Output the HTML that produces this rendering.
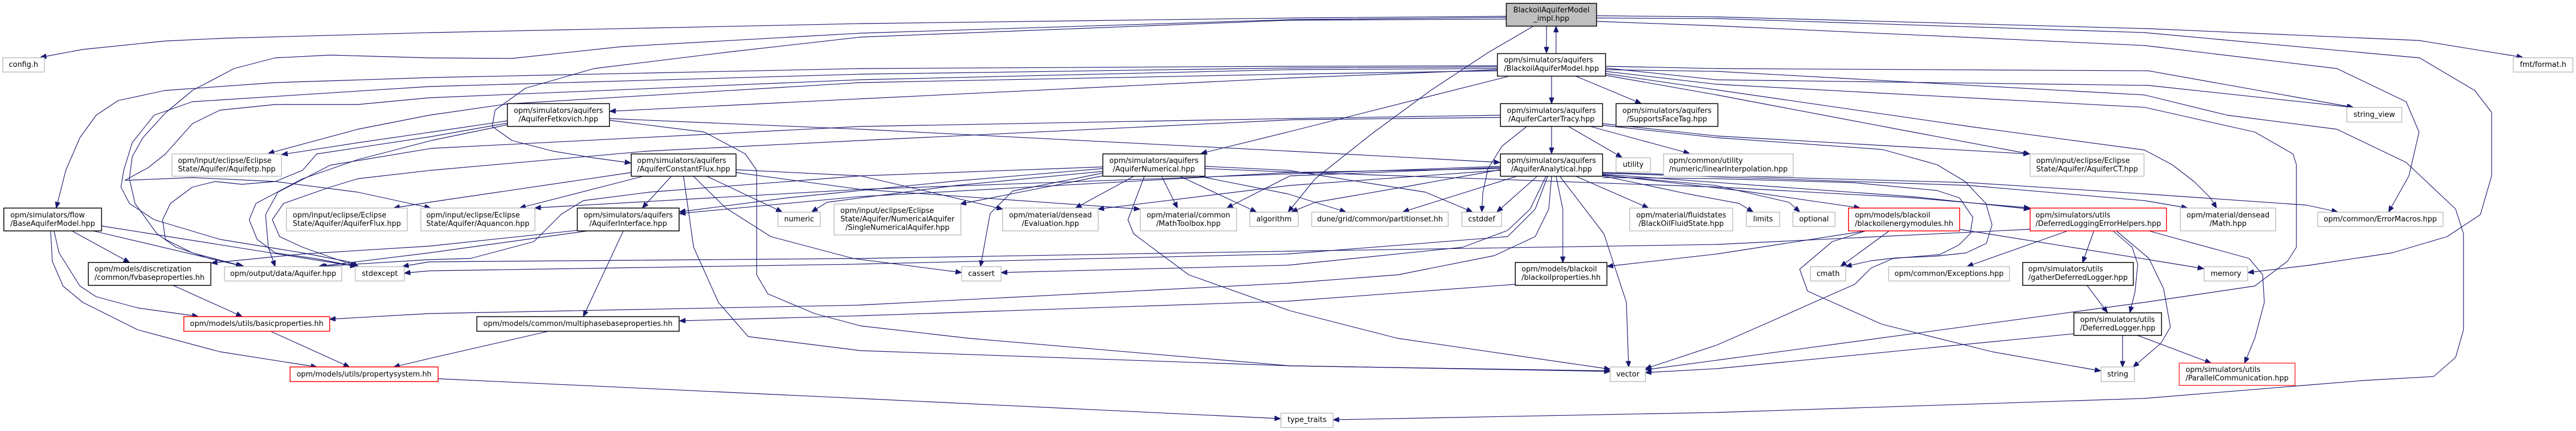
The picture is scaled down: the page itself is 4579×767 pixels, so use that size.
<!DOCTYPE html>
<html><head><meta charset="utf-8">
<style>
html,body{margin:0;padding:0;background:#fff;}
#c{position:relative;width:4579px;height:767px;overflow:hidden;background:#fff;}
svg{position:absolute;left:0;top:0;}
.n{position:absolute;display:flex;align-items:center;justify-content:center;font-family:"DejaVu Sans","Liberation Sans",sans-serif;font-size:13px;line-height:15px;color:#000;white-space:nowrap;}
.n .t{text-align:left;}
.n .t div:last-child{text-align:center;}
</style></head><body><div id="c">
<svg width="4579" height="767" viewBox="0 0 4579 767">
<defs>
<marker id="a" viewBox="0 0 11 9" refX="10.5" refY="4.5" markerWidth="11" markerHeight="9" markerUnits="userSpaceOnUse" orient="auto">
<path d="M0,0L11,4.5L0,9z" fill="#191970" stroke="#191970" stroke-width="0.8"/>
</marker>
</defs>
<g fill="none" stroke="#191970" stroke-width="1.15" stroke-linejoin="round" marker-end="url(#a)">
<polyline points="2749,47 2749,94"/>
<polyline points="2766,95 2766,47"/>
<polyline points="2677,29 2300,32 1530,42 767,58 400,68 293,73 147,88 72,102"/>
<polyline points="2725,47 2646,93 2543,161 2436,240 2338,318 2290,377"/>
<polyline points="2677,34 2293,36 1530,66 1300,92 1056,122 934,157 880,196 875,225 910,250 983,269 1056,281 1121,290"/>
<polyline points="2677,31 2293,35 1530,59 1105,83 910,104 763,103 587,98 489,103 416,122 342,161 294,201 254,245 235,279 230,318 240,362 279,416 313,440 372,460 433,474"/>
<polyline points="2838,28 3052,30 3819,51 4300,72 4484,102"/>
<polyline points="2838,32 3052,33 3812,58 4301,103 4399,161 4429,200 4429,313 4409,382 4350,421 4252,450 4105,472 3996,485"/>
<polyline points="2838,38 3052,46 3812,81 4154,122 4277,181 4300,235 4282,313 4246,377"/>
<polyline points="2662,117 2289,118 1530,122 767,138 489,147 293,161 210,179 171,205 142,245 117,303 100,370"/>
<polyline points="2662,119 2289,121 1530,132 763,154 342,181 274,205 235,254 220,303 215,333 230,362 274,391 391,426 538,450 621,466 637,474"/>
<polyline points="2662,122 2289,124 1526,142 763,174 636,186 489,186 391,196 342,220 294,274 264,298 222,321 342,316 489,323 636,342 765,370"/>
<polyline points="2662,126 2289,132 1530,147 902,185 763,205 636,230 477,273"/>
<polyline points="2662,124 2289,139 1526,176 1084,198"/>
<polyline points="2681,136 2289,235 2135,273"/>
<polyline points="2758,136 2758,184"/>
<polyline points="2802,136 2917,184"/>
<polyline points="2854,118 3052,122 3819,126 4183,191"/>
<polyline points="2854,121 3052,142 3819,152 4182,191"/>
<polyline points="2854,124 3052,127 3812,169 3959,205 4154,230 4277,289 4365,372 4379,416 4379,587 4365,636 4326,670 4203,677 4081,687 3812,709 3052,734 2370,747"/>
<polyline points="2854,127 3052,150 3812,191 4008,235 4076,274 4082,293 4082,440 4066,465 4008,509 3812,538 3052,641 2925,658"/>
<polyline points="2854,131 3052,160 3500,225 3812,267 3861,293 3900,323 3929,352 3940,370"/>
<polyline points="2854,134 3052,169 3400,235 3608,274"/>
<polyline points="2849,220 3052,242 3400,262 3607,274"/>
<polyline points="2849,223 3052,245 3346,266 3443,293 3493,323 3530,362 3541,400 3531,433 3495,450 3440,456 3370,459 3326,464 3281,474"/>
<polyline points="2758,225 2758,273"/>
<polyline points="2788,225 2883,280"/>
<polyline points="2827,225 3003,273"/>
<polyline points="2714,225 2670,260 2645,300 2636,342 2634,377"/>
<polyline points="2667,205 2289,211 1530,225 767,264 587,294 494,342 472,382 477,440 489,474"/>
<polyline points="2667,209 2300,213 1530,250 1150,269 767,303 636,318 587,333 504,362 484,391 497,421 538,440 634,474"/>
<polyline points="902,215 767,235 636,254 501,275"/>
<polyline points="902,219 767,243 563,274 538,303 489,323 430,328 382,323 342,333 303,362 289,391 294,426 342,450 430,473"/>
<polyline points="902,222 767,250 636,284 538,318 455,362 443,391 457,426 489,450 560,460 633,474"/>
<polyline points="1083,211 1530,230 2293,269 2666,289"/>
<polyline points="1083,214 1252,235 1325,274 1345,303 1345,489 1365,523 1448,558 1530,580 1722,602 2293,651 2862,660"/>
<polyline points="1122,307 763,360 700,370"/>
<polyline points="1142,314 924,370"/>
<polyline points="1193,314 1142,370"/>
<polyline points="1257,314 1390,377"/>
<polyline points="1233,314 1290,370 1370,421 1517,460 1709,485"/>
<polyline points="1215,314 1233,440 1277,538 1330,599 1530,624 2293,651 2862,661"/>
<polyline points="1308,302 1530,313 1782,372"/>
<polyline points="1308,307 1530,337 2026,372"/>
<polyline points="1026,410 763,438 538,452 376,468"/>
<polyline points="1044,411 763,450 567,474"/>
<polyline points="1108,411 1037,563"/>
<polyline points="1960,300 1700,322 1400,352 1208,377"/>
<polyline points="2667,300 2289,307 1526,350 1208,380"/>
<polyline points="1960,305 1700,330 1470,360 1443,377"/>
<polyline points="1960,313 1707,363"/>
<polyline points="1960,308 1800,340 1760,380 1743,474"/>
<polyline points="2015,314 1912,370"/>
<polyline points="2065,314 2093,370"/>
<polyline points="2098,314 2233,377"/>
<polyline points="2034,314 2005,391 2015,416 2113,489 2293,553 2484,602 2862,657"/>
<polyline points="2142,296 2289,303 2534,342 2617,377"/>
<polyline points="2133,314 2289,345 2392,377"/>
<polyline points="1960,297 1530,313 1154,342 1037,357 998,381 949,430 836,460 763,462 570,474"/>
<polyline points="2667,296 1530,337 951,370"/>
<polyline points="2667,303 2293,330 1952,372"/>
<polyline points="2667,298 2293,313 2181,370"/>
<polyline points="2667,302 2500,332 2338,360 2296,377"/>
<polyline points="2748,314 2720,372 2680,410 2600,440 2289,472 1780,485"/>
<polyline points="2751,314 2729,372 2680,421 2289,452 1526,470 763,482 719,486"/>
<polyline points="2758,314 2753,372 2729,421 2656,455 2485,489 2289,504 1526,543 763,558 586,568"/>
<polyline points="2766,314 2778,372 2778,467"/>
<polyline points="2773,314 2851,416 2891,538 2895,653"/>
<polyline points="2695,314 2494,377"/>
<polyline points="2732,314 2661,377"/>
<polyline points="2802,314 2930,370"/>
<polyline points="2849,313 3000,345 3091,362 3116,377"/>
<polyline points="2849,312 3050,330 3180,360 3199,377"/>
<polyline points="2849,311 3100,340 3306,370"/>
<polyline points="2849,310 3400,350 3608,372"/>
<polyline points="2142,300 2289,306 3056,333 3400,352 3608,370"/>
<polyline points="2849,308 3500,330 3812,357 3888,370"/>
<polyline points="2849,307 3500,325 3812,345 4100,365 4155,377"/>
<polyline points="2849,316 3052,318 3294,325 3443,339 3483,352 3507,387 3502,416 3482,436 3448,453 3365,460 3326,477 3297,506 3258,523 3150,571 3052,614 2925,656"/>
<polyline points="3358,411 3272,474"/>
<polyline points="3316,411 3257,430 3199,479 3213,518 3345,577 3541,626 3734,660"/>
<polyline points="3316,411 3052,452 2857,474"/>
<polyline points="3483,408 3819,462 3917,478"/>
<polyline points="2693,506 2289,536 1526,562 1208,571"/>
<polyline points="3675,411 3497,474"/>
<polyline points="3722,411 3702,467"/>
<polyline points="3756,411 3790,440 3800,470 3795,520 3786,556"/>
<polyline points="3762,411 3820,460 3846,514 3858,582 3841,611 3792,653"/>
<polyline points="3820,411 3998,460 4022,489 4025,538 4008,602 3990,646"/>
<polyline points="3609,408 3052,435 2289,447 1526,460 763,466 716,474"/>
<polyline points="3710,508 3746,556"/>
<polyline points="3773,597 3773,653"/>
<polyline points="3800,597 3930,646"/>
<polyline points="3686,594 3052,656 2925,663"/>
<polyline points="128,411 230,467"/>
<polyline points="166,411 433,474"/>
<polyline points="180,402 633,474"/>
<polyline points="96,411 105,450 142,509 171,528 245,548 352,563"/>
<polyline points="90,411 93,465 112,509 147,538 245,587 391,626 563,653"/>
<polyline points="308,508 430,563"/>
<polyline points="482,590 621,653"/>
<polyline points="973,590 763,638 700,653"/>
<polyline points="779,674 1526,709 2276,745"/>
</g>
<g stroke-width="1.5">
<rect x="2677.5" y="6" width="160.5" height="40.5" fill="#bfbfbf" stroke="#000"/>
<rect x="2661.7" y="95.4" width="192.3" height="40.1" fill="#fff" stroke="#000"/>
<rect x="4.9" y="102.7" width="73.9" height="25.5" fill="#fff" stroke="#bfbfbf"/>
<rect x="4467.5" y="102.7" width="106" height="25.5" fill="#fff" stroke="#bfbfbf"/>
<rect x="901.9" y="184.4" width="181.5" height="40.6" fill="#fff" stroke="#000"/>
<rect x="2667.1" y="184.4" width="181.5" height="40.6" fill="#fff" stroke="#000"/>
<rect x="2872.6" y="184.4" width="181" height="40.6" fill="#fff" stroke="#000"/>
<rect x="4171.5" y="191.3" width="97.9" height="25.9" fill="#fff" stroke="#bfbfbf"/>
<rect x="305.7" y="273.9" width="194.7" height="39.7" fill="#fff" stroke="#bfbfbf"/>
<rect x="1122.1" y="273.9" width="186.3" height="39.7" fill="#fff" stroke="#000"/>
<rect x="1960.4" y="273.9" width="181.5" height="39.7" fill="#fff" stroke="#000"/>
<rect x="2667.1" y="273.9" width="181.5" height="39.7" fill="#fff" stroke="#000"/>
<rect x="2872.6" y="280.8" width="61.1" height="25.4" fill="#fff" stroke="#bfbfbf"/>
<rect x="2957.2" y="273.9" width="230.3" height="39.7" fill="#fff" stroke="#bfbfbf"/>
<rect x="3608.7" y="273.9" width="202.5" height="39.7" fill="#fff" stroke="#bfbfbf"/>
<rect x="6.8" y="370.3" width="173.7" height="40.6" fill="#fff" stroke="#000"/>
<rect x="509.2" y="370.3" width="214.8" height="40.6" fill="#fff" stroke="#bfbfbf"/>
<rect x="748.1" y="370.3" width="202.7" height="40.6" fill="#fff" stroke="#bfbfbf"/>
<rect x="1026.2" y="370.3" width="181" height="40.6" fill="#fff" stroke="#000"/>
<rect x="1382.8" y="377.6" width="75.3" height="25.5" fill="#fff" stroke="#bfbfbf"/>
<rect x="1482.6" y="363" width="225.4" height="55.2" fill="#fff" stroke="#bfbfbf"/>
<rect x="1782.3" y="370.3" width="169.8" height="40.6" fill="#fff" stroke="#bfbfbf"/>
<rect x="2026.9" y="370.3" width="171.2" height="40.6" fill="#fff" stroke="#bfbfbf"/>
<rect x="2221.6" y="377.6" width="86" height="25.5" fill="#fff" stroke="#bfbfbf"/>
<rect x="2331.6" y="377.6" width="242.6" height="25.5" fill="#fff" stroke="#bfbfbf"/>
<rect x="2598.6" y="377.6" width="70.5" height="25.5" fill="#fff" stroke="#bfbfbf"/>
<rect x="2897" y="370.3" width="182.9" height="40.6" fill="#fff" stroke="#bfbfbf"/>
<rect x="3104.3" y="377.6" width="59.2" height="25.5" fill="#fff" stroke="#bfbfbf"/>
<rect x="3187" y="377.6" width="74.9" height="25.5" fill="#fff" stroke="#bfbfbf"/>
<rect x="3285.8" y="370.3" width="197.6" height="40.6" fill="#fff" stroke="#ff0000"/>
<rect x="3608.7" y="370.3" width="242.4" height="40.6" fill="#fff" stroke="#ff0000"/>
<rect x="3875.6" y="370.3" width="169.7" height="40.6" fill="#fff" stroke="#bfbfbf"/>
<rect x="4119.7" y="377.6" width="223" height="25.5" fill="#fff" stroke="#bfbfbf"/>
<rect x="157" y="467.2" width="217.7" height="40.6" fill="#fff" stroke="#000"/>
<rect x="399.2" y="474.5" width="208.3" height="25.5" fill="#fff" stroke="#bfbfbf"/>
<rect x="631.5" y="474.5" width="87.1" height="25.5" fill="#fff" stroke="#bfbfbf"/>
<rect x="1709.4" y="474.5" width="70" height="25.5" fill="#fff" stroke="#bfbfbf"/>
<rect x="2693.5" y="467.2" width="162.9" height="40.6" fill="#fff" stroke="#000"/>
<rect x="3218.3" y="474.5" width="62.6" height="25.5" fill="#fff" stroke="#bfbfbf"/>
<rect x="3357.2" y="474.5" width="214.8" height="25.5" fill="#fff" stroke="#bfbfbf"/>
<rect x="3595.5" y="467.2" width="196.6" height="40.6" fill="#fff" stroke="#000"/>
<rect x="3918.1" y="474.5" width="77.3" height="25.5" fill="#fff" stroke="#bfbfbf"/>
<rect x="326.8" y="563.5" width="259.2" height="26" fill="#fff" stroke="#ff0000"/>
<rect x="847.6" y="563.5" width="359.6" height="26" fill="#fff" stroke="#000"/>
<rect x="3686.5" y="556.7" width="155.8" height="40.1" fill="#fff" stroke="#000"/>
<rect x="515.6" y="653" width="263.1" height="26" fill="#fff" stroke="#ff0000"/>
<rect x="2862.3" y="653" width="62.6" height="26" fill="#fff" stroke="#bfbfbf"/>
<rect x="3734.9" y="653" width="59.2" height="26" fill="#fff" stroke="#bfbfbf"/>
<rect x="3873.6" y="646.2" width="206" height="39.6" fill="#fff" stroke="#ff3333"/>
<rect x="2276.9" y="735.2" width="92.8" height="25.5" fill="#fff" stroke="#bfbfbf"/>
</g>
</svg>

<div class="n" style="left:2677.5px;top:6px;width:160.5px;height:40.5px"><div class="t" style="text-align:center"><div>BlackoilAquiferModel</div><div>_impl.hpp</div></div></div>
<div class="n" style="left:2661.7px;top:95.4px;width:192.3px;height:40.1px"><div class="t"><div>opm/simulators/aquifers</div><div>/BlackoilAquiferModel.hpp</div></div></div>
<div class="n" style="left:4.9px;top:102.7px;width:73.9px;height:25.5px">config.h</div>
<div class="n" style="left:4467.5px;top:102.7px;width:106px;height:25.5px">fmt/format.h</div>
<div class="n" style="left:901.9px;top:184.4px;width:181.5px;height:40.6px"><div class="t"><div>opm/simulators/aquifers</div><div>/AquiferFetkovich.hpp</div></div></div>
<div class="n" style="left:2667.1px;top:184.4px;width:181.5px;height:40.6px"><div class="t"><div>opm/simulators/aquifers</div><div>/AquiferCarterTracy.hpp</div></div></div>
<div class="n" style="left:2872.6px;top:184.4px;width:181px;height:40.6px"><div class="t"><div>opm/simulators/aquifers</div><div>/SupportsFaceTag.hpp</div></div></div>
<div class="n" style="left:4171.5px;top:191.3px;width:97.9px;height:25.9px">string_view</div>
<div class="n" style="left:305.7px;top:273.9px;width:194.7px;height:39.7px"><div class="t"><div>opm/input/eclipse/Eclipse</div><div>State/Aquifer/Aquifetp.hpp</div></div></div>
<div class="n" style="left:1122.1px;top:273.9px;width:186.3px;height:39.7px"><div class="t"><div>opm/simulators/aquifers</div><div>/AquiferConstantFlux.hpp</div></div></div>
<div class="n" style="left:1960.4px;top:273.9px;width:181.5px;height:39.7px"><div class="t"><div>opm/simulators/aquifers</div><div>/AquiferNumerical.hpp</div></div></div>
<div class="n" style="left:2667.1px;top:273.9px;width:181.5px;height:39.7px"><div class="t"><div>opm/simulators/aquifers</div><div>/AquiferAnalytical.hpp</div></div></div>
<div class="n" style="left:2872.6px;top:280.8px;width:61.1px;height:25.4px">utility</div>
<div class="n" style="left:2957.2px;top:273.9px;width:230.3px;height:39.7px"><div class="t"><div>opm/common/utility</div><div>/numeric/linearInterpolation.hpp</div></div></div>
<div class="n" style="left:3608.7px;top:273.9px;width:202.5px;height:39.7px"><div class="t"><div>opm/input/eclipse/Eclipse</div><div>State/Aquifer/AquiferCT.hpp</div></div></div>
<div class="n" style="left:6.8px;top:370.3px;width:173.7px;height:40.6px"><div class="t"><div>opm/simulators/flow</div><div>/BaseAquiferModel.hpp</div></div></div>
<div class="n" style="left:509.2px;top:370.3px;width:214.8px;height:40.6px"><div class="t"><div>opm/input/eclipse/Eclipse</div><div>State/Aquifer/AquiferFlux.hpp</div></div></div>
<div class="n" style="left:748.1px;top:370.3px;width:202.7px;height:40.6px"><div class="t"><div>opm/input/eclipse/Eclipse</div><div>State/Aquifer/Aquancon.hpp</div></div></div>
<div class="n" style="left:1026.2px;top:370.3px;width:181px;height:40.6px"><div class="t"><div>opm/simulators/aquifers</div><div>/AquiferInterface.hpp</div></div></div>
<div class="n" style="left:1382.8px;top:377.6px;width:75.3px;height:25.5px">numeric</div>
<div class="n" style="left:1482.6px;top:363px;width:225.4px;height:55.2px"><div class="t"><div>opm/input/eclipse/Eclipse</div><div>State/Aquifer/NumericalAquifer</div><div>/SingleNumericalAquifer.hpp</div></div></div>
<div class="n" style="left:1782.3px;top:370.3px;width:169.8px;height:40.6px"><div class="t"><div>opm/material/densead</div><div>/Evaluation.hpp</div></div></div>
<div class="n" style="left:2026.9px;top:370.3px;width:171.2px;height:40.6px"><div class="t"><div>opm/material/common</div><div>/MathToolbox.hpp</div></div></div>
<div class="n" style="left:2221.6px;top:377.6px;width:86px;height:25.5px">algorithm</div>
<div class="n" style="left:2331.6px;top:377.6px;width:242.6px;height:25.5px">dune/grid/common/partitionset.hh</div>
<div class="n" style="left:2598.6px;top:377.6px;width:70.5px;height:25.5px">cstddef</div>
<div class="n" style="left:2897px;top:370.3px;width:182.9px;height:40.6px"><div class="t"><div>opm/material/fluidstates</div><div>/BlackOilFluidState.hpp</div></div></div>
<div class="n" style="left:3104.3px;top:377.6px;width:59.2px;height:25.5px">limits</div>
<div class="n" style="left:3187px;top:377.6px;width:74.9px;height:25.5px">optional</div>
<div class="n" style="left:3285.8px;top:370.3px;width:197.6px;height:40.6px"><div class="t"><div>opm/models/blackoil</div><div>/blackoilenergymodules.hh</div></div></div>
<div class="n" style="left:3608.7px;top:370.3px;width:242.4px;height:40.6px"><div class="t"><div>opm/simulators/utils</div><div>/DeferredLoggingErrorHelpers.hpp</div></div></div>
<div class="n" style="left:3875.6px;top:370.3px;width:169.7px;height:40.6px"><div class="t"><div>opm/material/densead</div><div>/Math.hpp</div></div></div>
<div class="n" style="left:4119.7px;top:377.6px;width:223px;height:25.5px">opm/common/ErrorMacros.hpp</div>
<div class="n" style="left:157px;top:467.2px;width:217.7px;height:40.6px"><div class="t"><div>opm/models/discretization</div><div>/common/fvbaseproperties.hh</div></div></div>
<div class="n" style="left:399.2px;top:474.5px;width:208.3px;height:25.5px">opm/output/data/Aquifer.hpp</div>
<div class="n" style="left:631.5px;top:474.5px;width:87.1px;height:25.5px">stdexcept</div>
<div class="n" style="left:1709.4px;top:474.5px;width:70px;height:25.5px">cassert</div>
<div class="n" style="left:2693.5px;top:467.2px;width:162.9px;height:40.6px"><div class="t"><div>opm/models/blackoil</div><div>/blackoilproperties.hh</div></div></div>
<div class="n" style="left:3218.3px;top:474.5px;width:62.6px;height:25.5px">cmath</div>
<div class="n" style="left:3357.2px;top:474.5px;width:214.8px;height:25.5px">opm/common/Exceptions.hpp</div>
<div class="n" style="left:3595.5px;top:467.2px;width:196.6px;height:40.6px"><div class="t"><div>opm/simulators/utils</div><div>/gatherDeferredLogger.hpp</div></div></div>
<div class="n" style="left:3918.1px;top:474.5px;width:77.3px;height:25.5px">memory</div>
<div class="n" style="left:326.8px;top:563.5px;width:259.2px;height:26px">opm/models/utils/basicproperties.hh</div>
<div class="n" style="left:847.6px;top:563.5px;width:359.6px;height:26px">opm/models/common/multiphasebaseproperties.hh</div>
<div class="n" style="left:3686.5px;top:556.7px;width:155.8px;height:40.1px"><div class="t"><div>opm/simulators/utils</div><div>/DeferredLogger.hpp</div></div></div>
<div class="n" style="left:515.6px;top:653px;width:263.1px;height:26px">opm/models/utils/propertysystem.hh</div>
<div class="n" style="left:2862.3px;top:653px;width:62.6px;height:26px">vector</div>
<div class="n" style="left:3734.9px;top:653px;width:59.2px;height:26px">string</div>
<div class="n" style="left:3873.6px;top:646.2px;width:206px;height:39.6px"><div class="t"><div>opm/simulators/utils</div><div>/ParallelCommunication.hpp</div></div></div>
<div class="n" style="left:2276.9px;top:735.2px;width:92.8px;height:25.5px">type_traits</div>
</div></body></html>
